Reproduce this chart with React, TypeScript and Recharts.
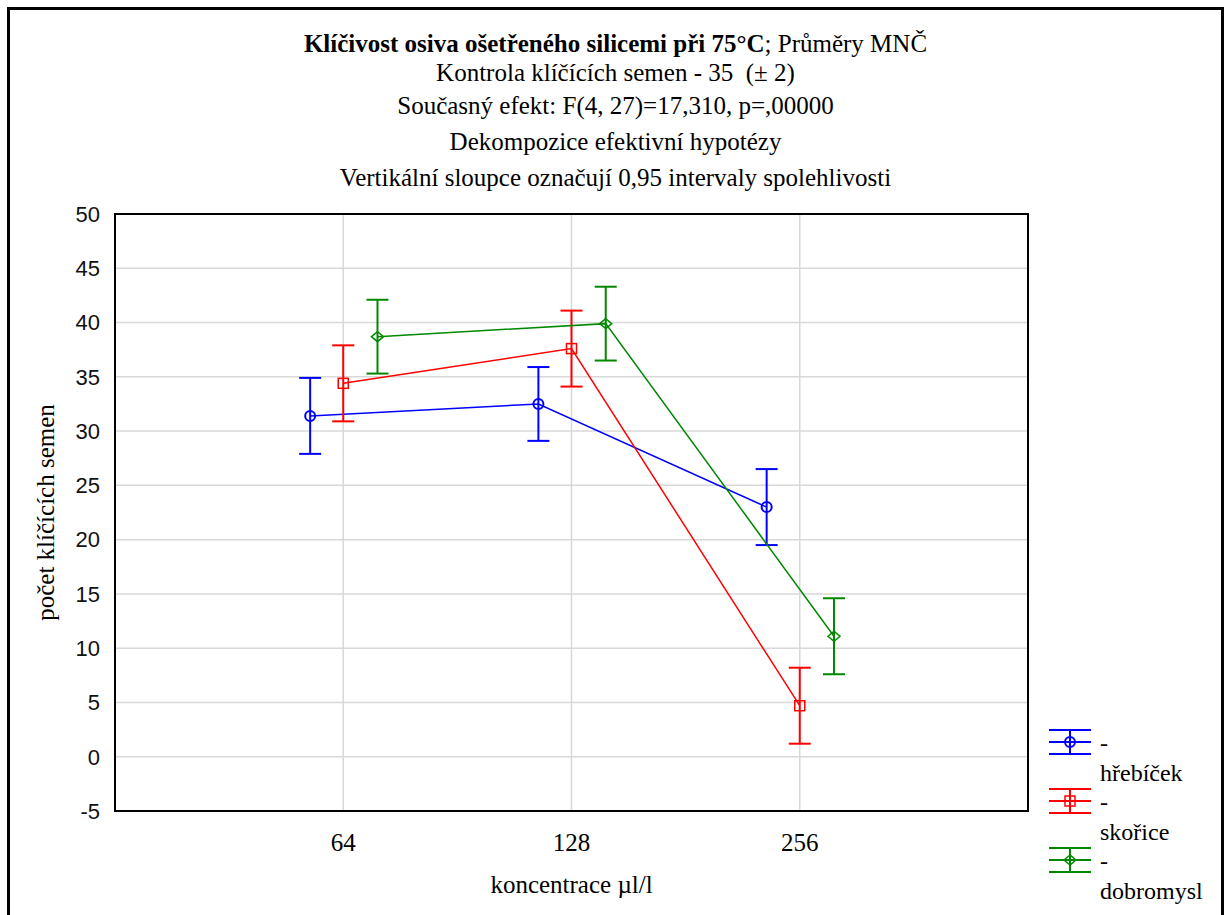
import { ComposedChart, Line, ErrorBar, XAxis, YAxis, CartesianGrid, ReferenceArea, Label } from 'recharts';

const categories = ['64', '128', '256'];
const yTicks = [-5, 0, 5, 10, 15, 20, 25, 30, 35, 40, 45, 50];

const hrebicekMeans = [31.4, 32.5, 23.0];
const hrebicekCI = [3.5, 3.4, 3.5];
const skoriceMeans = [34.4, 37.6, 4.7];
const skoriceCI = [3.5, 3.5, 3.5];
const dobromyslMeans = [38.7, 39.9, 11.1];
const dobromyslCI = [3.4, 3.4, 3.5];

const titleLines = [
  'Kontrola klíčících semen - 35  (± 2)',
  'Současný efekt: F(4, 27)=17,310, p=,00000',
  'Dekompozice efektivní hypotézy',
  'Vertikální sloupce označují 0,95 intervaly spolehlivosti',
];
const titleTops = [59, 92, 128, 164];

const SERIF = '"Liberation Serif", "Times New Roman", serif';
const SANS = '"Liberation Sans", Arial, sans-serif';

type Shape = 'circle' | 'square' | 'diamond';

const series = [
  { name: 'hřebíček', color: '#0000ff', shape: 'circle' as Shape, offset: -0.145, means: hrebicekMeans, ci: hrebicekCI },
  { name: 'skořice', color: '#ff0000', shape: 'square' as Shape, offset: 0, means: skoriceMeans, ci: skoriceCI },
  { name: 'dobromysl', color: '#008800', shape: 'diamond' as Shape, offset: 0.15, means: dobromyslMeans, ci: dobromyslCI },
];

function marker(shape: Shape, cx: number, cy: number, color: string, key?: string) {
  if (shape === 'circle') {
    return <circle key={key} cx={cx} cy={cy} r={5} fill="none" stroke={color} strokeWidth={2} />;
  }
  if (shape === 'square') {
    return <rect key={key} x={cx - 5} y={cy - 5} width={10} height={10} fill="none" stroke={color} strokeWidth={1.5} />;
  }
  return (
    <polygon
      key={key}
      points={`${cx - 6},${cy} ${cx},${cy - 5} ${cx + 6},${cy} ${cx},${cy + 5}`}
      fill="none"
      stroke={color}
      strokeWidth={1.5}
    />
  );
}

function LegendSymbol({ color, shape }: { color: string; shape: Shape }) {
  return (
    <svg width={44} height={28} style={{ display: 'block' }}>
      <line x1={1} y1={2} x2={43} y2={2} stroke={color} strokeWidth={2} />
      <line x1={1} y1={14} x2={43} y2={14} stroke={color} strokeWidth={2} />
      <line x1={1} y1={26} x2={43} y2={26} stroke={color} strokeWidth={2} />
      <line x1={22} y1={2} x2={22} y2={26} stroke={color} strokeWidth={2} />
      {marker(shape, 22, 14, color)}
    </svg>
  );
}

export default function App() {
  return (
    <div style={{ position: 'absolute', left: 0, top: 0, width: 1230, height: 915, overflow: 'hidden', background: '#fff' }}>
      <div style={{ position: 'absolute', left: 7, top: 7, width: 1211, height: 960, border: '3px solid #000' }} />

      <div style={{ position: 'absolute', left: 7, width: 1217, top: 30, textAlign: 'center', fontFamily: SERIF, fontSize: 25, lineHeight: '28px', color: '#000' }}>
        <b>Klíčivost osiva ošetřeného silicemi při 75°C</b>; Průměry MNČ
      </div>
      {titleLines.map((t, i) => (
        <div
          key={t}
          style={{ position: 'absolute', left: 7, width: 1217, top: titleTops[i], textAlign: 'center', whiteSpace: 'pre', fontFamily: SERIF, fontSize: 25, lineHeight: '28px', color: '#000' }}
        >
          {t}
        </div>
      ))}

      <div style={{ position: 'absolute', left: 0, top: 0 }}>
        <ComposedChart width={1230} height={915} margin={{ top: 214, right: 202, bottom: 0, left: 20 }}>
          <CartesianGrid stroke="#d8d8d8" strokeWidth={1.5} />
          <XAxis
            type="number"
            dataKey="x"
            domain={[0, 4]}
            ticks={[1, 2, 3]}
            allowDataOverflow
            tickFormatter={(v: number) => categories[v - 1] ?? ''}
            height={104}
            tickSize={0}
            tickLine={false}
            tickMargin={22}
            axisLine={false}
            tick={{ fill: '#000', fontFamily: SERIF, fontSize: 25 }}
          >
            <Label value="koncentrace µl/l" position="insideBottom" offset={22} style={{ fill: '#000', fontFamily: SERIF, fontSize: 25 }} />
          </XAxis>
          <YAxis
            type="number"
            domain={[-5, 50]}
            ticks={yTicks}
            interval={0}
            allowDataOverflow
            width={95}
            tickSize={0}
            tickLine={false}
            tickMargin={15}
            axisLine={false}
            tick={{ fill: '#111', fontFamily: SANS, fontSize: 22 }}
          >
            <Label
              value="počet klíčících semen"
              angle={-90}
              position="insideLeft"
              offset={25}
              style={{ textAnchor: 'middle', fill: '#000', fontFamily: SERIF, fontSize: 25 }}
            />
          </YAxis>
          <ReferenceArea x1={0} x2={4} y1={-5} y2={50} fill="none" fillOpacity={0} stroke="#000" strokeWidth={2} />
          {series.map((s) => (
            <Line
              key={s.name}
              name={s.name}
              data={s.means.map((m, i) => ({ x: i + 1 + s.offset, y: m, ci: s.ci[i] }))}
              dataKey="y"
              type="linear"
              stroke={s.color}
              strokeWidth={1.5}
              isAnimationActive={false}
              dot={(p: any) => marker(s.shape, p.cx, p.cy, s.color, `${s.name}-${p.index}`)}
              activeDot={false}
            >
              <ErrorBar dataKey="ci" direction="y" width={11} stroke={s.color} strokeWidth={2} isAnimationActive={false} />
            </Line>
          ))}
        </ComposedChart>
      </div>

      {series.map((s, i) => (
        <div key={s.name} style={{ position: 'absolute', left: 1048, top: 728 + i * 59, fontFamily: SERIF, fontSize: 24, color: '#000' }}>
          <LegendSymbol color={s.color} shape={s.shape} />
          <div style={{ position: 'absolute', left: 52, top: 0, lineHeight: '30px', whiteSpace: 'nowrap' }}>
            -<br />
            {s.name}
          </div>
        </div>
      ))}
    </div>
  );
}
